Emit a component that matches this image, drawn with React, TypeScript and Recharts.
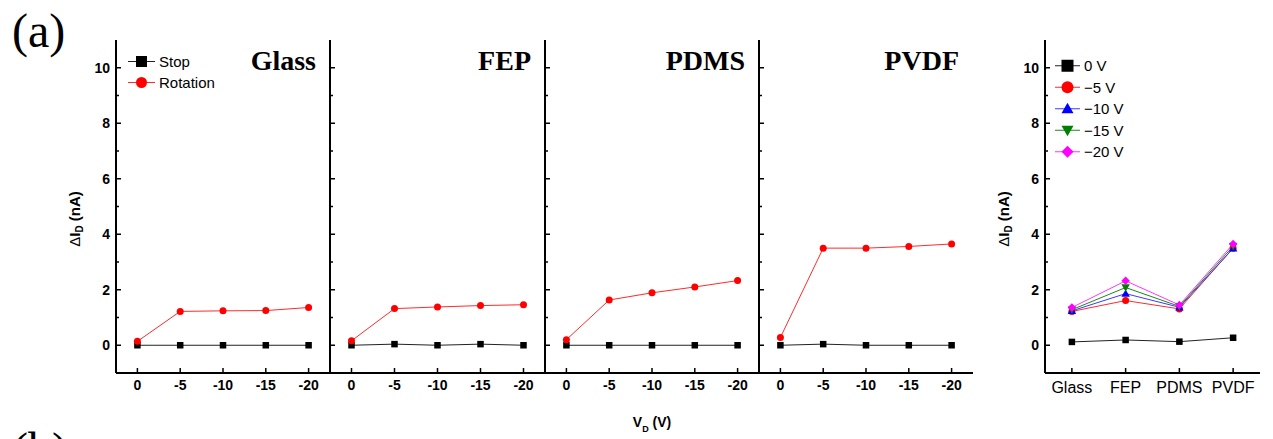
import React from 'react';
import { LineChart, Line, XAxis, YAxis, Legend } from 'recharts';

// Drain voltage categories for the four substrate panels
const vdTicks = ['0', '-5', '-10', '-15', '-20'];

// ΔI_D (nA) per substrate, stop vs rotation
const glassStop = [0, 0, 0, 0, 0];
const glassRotation = [0.14, 1.22, 1.24, 1.25, 1.36];
const fepStop = [0, 0.04, 0, 0.04, 0];
const fepRotation = [0.16, 1.32, 1.38, 1.43, 1.46];
const pdmsStop = [0, 0, 0, 0, 0];
const pdmsRotation = [0.2, 1.63, 1.89, 2.1, 2.33];
const pvdfStop = [0, 0.04, 0, 0, 0];
const pvdfRotation = [0.28, 3.5, 3.5, 3.56, 3.65];

// Summary panel: ΔI_D per substrate at each V_D
const materials = ['Glass', 'FEP', 'PDMS', 'PVDF'];
const dI0V = [0.12, 0.19, 0.13, 0.27];
const dI5V = [1.22, 1.61, 1.31, 3.5];
const dI10V = [1.24, 1.86, 1.37, 3.49];
const dI15V = [1.28, 2.08, 1.4, 3.57];
const dI20V = [1.36, 2.32, 1.45, 3.65];

const yTicks = [0, 1, 2, 3, 4, 5, 6, 7, 8, 9, 10];

const SANS = '"Liberation Sans", Arial, sans-serif';
const SERIF = '"Liberation Serif", "Times New Roman", serif';

type Shape = 'square' | 'circle' | 'triangle' | 'triangleDown' | 'diamond';

function Marker({ cx, cy, shape, size, color }: { cx: number; cy: number; shape: Shape; size: number; color: string }) {
  const h = size / 2;
  switch (shape) {
    case 'square':
      return <rect x={cx - h} y={cy - h} width={size} height={size} fill={color} />;
    case 'circle':
      return <circle cx={cx} cy={cy} r={h} fill={color} />;
    case 'triangle':
      return <polygon points={`${cx},${cy - h} ${cx + h},${cy + h * 0.75} ${cx - h},${cy + h * 0.75}`} fill={color} />;
    case 'triangleDown':
      return <polygon points={`${cx},${cy + h} ${cx + h},${cy - h * 0.75} ${cx - h},${cy - h * 0.75}`} fill={color} />;
    default:
      return <polygon points={`${cx},${cy - h} ${cx + h},${cy} ${cx},${cy + h} ${cx - h},${cy}`} fill={color} />;
  }
}

const dotOf = (shape: Shape, size: number, color: string) => (p: any) => {
  if (p.cx == null || p.cy == null) return <g key={`e-${p.index}`} />;
  return (
    <g key={`d-${p.dataKey}-${p.index}`}>
      <Marker cx={p.cx} cy={p.cy} shape={shape} size={size} color={color} />
    </g>
  );
};

const makeYTick = (showLabel: boolean) => (props: any) => {
  const { x, y, payload } = props;
  const v = Number(payload.value);
  const major = v % 2 === 0;
  return (
    <g>
      <line x1={x} x2={x + (major ? 5 : 3)} y1={y} y2={y} stroke="#000" strokeWidth={1.5} />
      {showLabel && major && (
        <text x={x - 6} y={y + 5} textAnchor="end" fontFamily={SANS} fontWeight="bold" fontSize={14} fill="#000">
          {v}
        </text>
      )}
    </g>
  );
};

const makeXTick = (fontSize: number, bold: boolean, dy: number) => (props: any) => {
  const { x, y, payload } = props;
  return (
    <g>
      <line x1={x} x2={x} y1={y} y2={y - 5} stroke="#000" strokeWidth={1.5} />
      <text x={x} y={y + dy} textAnchor="middle" fontFamily={SANS} fontWeight={bold ? 'bold' : 'normal'} fontSize={fontSize} fill="#000">
        {payload.value}
      </text>
    </g>
  );
};

const frameLine = { stroke: '#000', strokeWidth: 2 };

type SeriesStyle = { key: string; name: string; color: string; lineColor: string; shape: Shape };

// Legend rows follow the series order, names come from the chart's legend payload
const legendContent = (styles: SeriesStyle[], markerSize: number, rowH: number, lineW: number) => (props: any) => {
  const payload: any[] = props.payload || [];
  return (
    <svg width={130} height={styles.length * rowH} style={{ display: 'block', overflow: 'visible' }}>
      {styles.map((st, i) => {
        const entry = payload.find((e) => e.dataKey === st.key);
        const cy = i * rowH + rowH / 2;
        return (
          <g key={st.key}>
            <line x1={0} x2={lineW} y1={cy} y2={cy} stroke={st.lineColor} strokeWidth={1} />
            <Marker cx={lineW / 2} cy={cy} shape={st.shape} size={markerSize} color={st.color} />
            <text x={lineW + 4} y={cy + 5.5} fontFamily={SANS} fontSize={15} fill="#000">
              {entry ? entry.value : st.name}
            </text>
          </g>
        );
      })}
    </svg>
  );
};

const panelStyles: SeriesStyle[] = [
  { key: 'stop', name: 'Stop', color: '#000', lineColor: '#222', shape: 'square' },
  { key: 'rotation', name: 'Rotation', color: '#ff0000', lineColor: '#ff2a2a', shape: 'circle' },
];

const summaryStyles: SeriesStyle[] = [
  { key: 'v0', name: '0 V', color: '#000', lineColor: '#222', shape: 'square' },
  { key: 'v5', name: '\u22125 V', color: '#ff0000', lineColor: '#ff2a2a', shape: 'circle' },
  { key: 'v10', name: '\u221210 V', color: '#0000ff', lineColor: '#3a3aff', shape: 'triangle' },
  { key: 'v15', name: '\u221215 V', color: '#008000', lineColor: '#1a8a1a', shape: 'triangleDown' },
  { key: 'v20', name: '\u221220 V', color: '#ff00ff', lineColor: '#ff33ff', shape: 'diamond' },
];

const Y_AXIS_W = 40;
const PLOT_TOP = 40;
const PLOT_H = 333;
const CHART_TOP = 30;

function Panel({
  left,
  width,
  stop,
  rotation,
  showYLabels,
  showLegend,
}: {
  left: number;
  width: number;
  stop: number[];
  rotation: number[];
  showYLabels: boolean;
  showLegend: boolean;
}) {
  const data = vdTicks.map((v, i) => ({ vd: v, stop: stop[i], rotation: rotation[i] }));
  const pad = width / 10;
  const marginTop = PLOT_TOP - CHART_TOP;
  return (
    <div style={{ position: 'absolute', left: left - Y_AXIS_W, top: CHART_TOP }}>
      <LineChart width={width + Y_AXIS_W} height={marginTop + PLOT_H + 30} data={data} margin={{ top: marginTop, right: 0, bottom: 0, left: 0 }}>
        <XAxis
          dataKey="vd"
          type="category"
          padding={{ left: pad, right: pad }}
          height={30}
          tickSize={0}
          tickMargin={0}
          tickLine={false}
          axisLine={frameLine}
          tick={makeXTick(14, true, 17)}
          interval={0}
        />
        <XAxis xAxisId="top" orientation="top" dataKey="vd" type="category" height={0} tick={false} tickLine={false} axisLine={frameLine} />
        <YAxis
          type="number"
          domain={[-1, 11]}
          ticks={yTicks}
          interval={0}
          width={Y_AXIS_W}
          tickSize={0}
          tickMargin={0}
          tickLine={false}
          axisLine={frameLine}
          tick={makeYTick(showYLabels)}
        />
        <YAxis yAxisId="right" orientation="right" type="number" domain={[0, 1]} width={0} tick={false} tickLine={false} axisLine={frameLine} />
        {showLegend && (
          <Legend
            layout="vertical"
            align="center"
            verticalAlign="middle"
            wrapperStyle={{ left: 52, top: 21, width: 'auto', height: 'auto' }}
            content={legendContent(panelStyles, 11, 21, 27)}
          />
        )}
        {panelStyles.map((s) => (
          <Line
            key={s.key}
            dataKey={s.key}
            name={s.name}
            stroke={s.lineColor}
            strokeWidth={1}
            dot={dotOf(s.shape, s.shape === 'circle' ? 7 : 6.5, s.color)}
            activeDot={false}
            isAnimationActive={false}
          />
        ))}
      </LineChart>
    </div>
  );
}

function SummaryPanel({ left, width }: { left: number; width: number }) {
  const data = materials.map((m, i) => ({ m, v0: dI0V[i], v5: dI5V[i], v10: dI10V[i], v15: dI15V[i], v20: dI20V[i] }));
  const pad = width / 8;
  const marginTop = PLOT_TOP - CHART_TOP;
  return (
    <div style={{ position: 'absolute', left: left - Y_AXIS_W, top: CHART_TOP }}>
      <LineChart width={width + Y_AXIS_W} height={marginTop + PLOT_H + 30} data={data} margin={{ top: marginTop, right: 0, bottom: 0, left: 0 }}>
        <XAxis
          dataKey="m"
          type="category"
          padding={{ left: pad, right: pad }}
          height={30}
          tickSize={0}
          tickMargin={0}
          tickLine={false}
          axisLine={frameLine}
          tick={makeXTick(16, false, 20)}
          interval={0}
        />
        <XAxis xAxisId="top" orientation="top" dataKey="m" type="category" height={0} tick={false} tickLine={false} axisLine={frameLine} />
        <YAxis
          type="number"
          domain={[-1, 11]}
          ticks={yTicks}
          interval={0}
          width={Y_AXIS_W}
          tickSize={0}
          tickMargin={0}
          tickLine={false}
          axisLine={frameLine}
          tick={makeYTick(true)}
        />
        <YAxis yAxisId="right" orientation="right" type="number" domain={[0, 1]} width={0} tick={false} tickLine={false} axisLine={frameLine} />
        <Legend
          layout="vertical"
          align="center"
          verticalAlign="middle"
          wrapperStyle={{ left: 50, top: 24.5, width: 'auto', height: 'auto' }}
          content={legendContent(summaryStyles, 12, 21.5, 25)}
        />
        {summaryStyles.map((s) => (
          <Line
            key={s.key}
            dataKey={s.key}
            name={s.name}
            stroke={s.lineColor}
            strokeWidth={1}
            dot={dotOf(s.shape, s.shape === 'square' ? 6.5 : s.shape === 'circle' ? 7 : 8.5, s.color)}
            activeDot={false}
            isAnimationActive={false}
          />
        ))}
      </LineChart>
    </div>
  );
}

const panelLefts = [116, 330, 545, 759];
const panelWidths = [214, 215, 214, 214];
const panelTitles = ['Glass', 'FEP', 'PDMS', 'PVDF'];
const panelStops = [glassStop, fepStop, pdmsStop, pvdfStop];
const panelRotations = [glassRotation, fepRotation, pdmsRotation, pvdfRotation];

function YLabel({ cx, cy }: { cx: number; cy: number }) {
  return (
    <text
      x={cx}
      y={cy}
      transform={`rotate(-90, ${cx}, ${cy})`}
      textAnchor="middle"
      dominantBaseline="central"
      fontFamily={SANS}
      fontWeight="bold"
      fontSize={15}
      fill="#000"
    >
      <tspan fontWeight="normal">Δ</tspan>I
      <tspan baselineShift="sub" fontSize={10}>
        D
      </tspan>
      <tspan> (nA)</tspan>
    </text>
  );
}

export default function App() {
  return (
    <div style={{ position: 'absolute', left: 0, top: 0, width: 1273, height: 439, background: '#fff', overflow: 'hidden' }}>
      {panelLefts.map((l, i) => (
        <Panel
          key={panelTitles[i]}
          left={l}
          width={panelWidths[i]}
          stop={panelStops[i]}
          rotation={panelRotations[i]}
          showYLabels={i === 0}
          showLegend={i === 0}
        />
      ))}
      <SummaryPanel left={1045} width={215} />
      <svg width={1273} height={439} style={{ position: 'absolute', left: 0, top: 0, pointerEvents: 'none' }}>
        <text x={12} y={47} fontFamily={SERIF} fontSize={48} fill="#000">
          (a)
        </text>
        <text x={12} y={466} fontFamily={SERIF} fontSize={48} fill="#000">
          (b)
        </text>
        {panelTitles.map((t, i) => (
          <text
            key={t}
            x={panelLefts[i] + panelWidths[i] - 14}
            y={70}
            textAnchor="end"
            fontFamily={SERIF}
            fontWeight="bold"
            fontSize={28}
            fill="#000"
          >
            {t}
          </text>
        ))}
        <YLabel cx={74} cy={219} />
        <YLabel cx={1003} cy={219} />
        <text x={652} y={427} textAnchor="middle" fontFamily={SANS} fontWeight="bold" fontSize={14} fill="#000">
          V
          <tspan baselineShift="sub" fontSize={9}>
            D
          </tspan>
          <tspan> (V)</tspan>
        </text>
      </svg>
    </div>
  );
}
